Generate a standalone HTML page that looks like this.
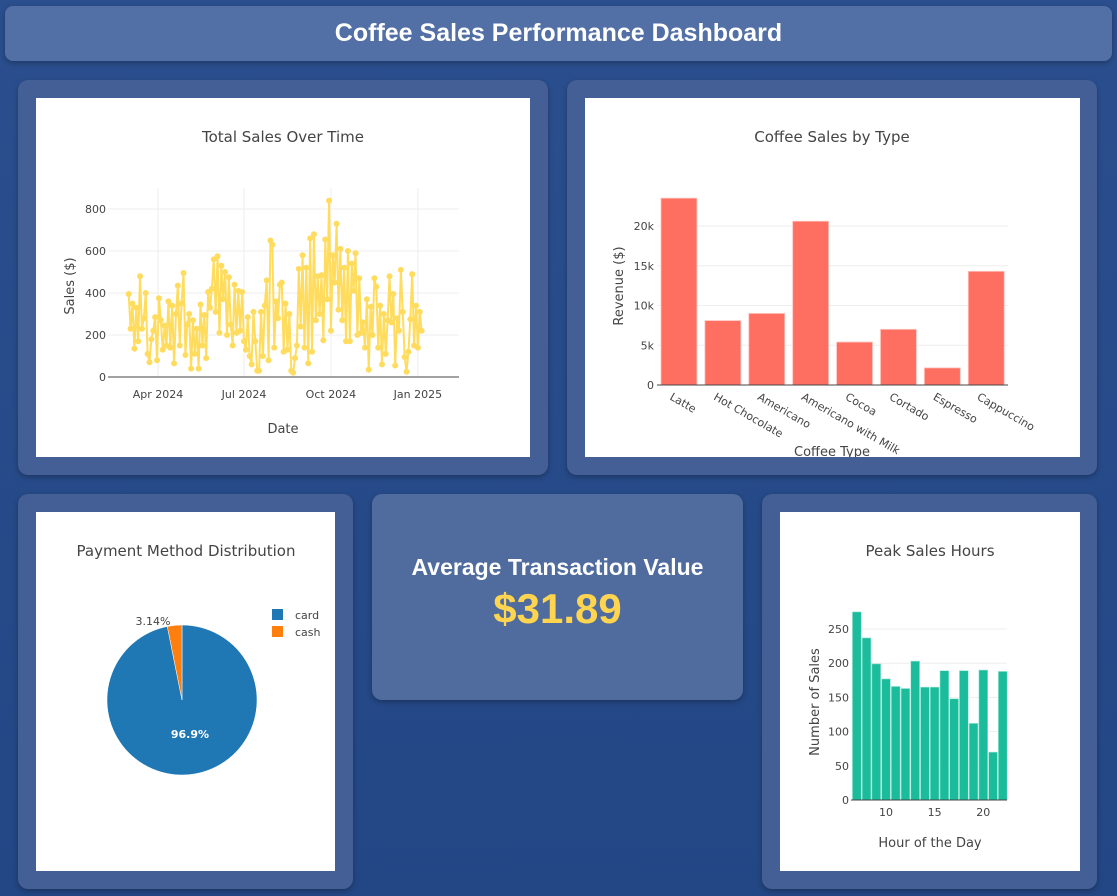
<!DOCTYPE html>
<html><head><meta charset="utf-8"><style>
body{margin:0;width:1117px;height:896px;background:linear-gradient(180deg,#2b4f8e,#234785);font-family:"Liberation Sans",sans-serif;position:relative;overflow:hidden}
.abs{position:absolute}
.panel{background:#435f96;border-radius:10px;box-shadow:0 2px 6px rgba(0,0,0,.3)}
.white{background:#fff}
svg text{font-family:"DejaVu Sans","Liberation Sans",sans-serif}
</style></head><body>
<div class="abs" style="left:5px;top:6px;width:1107px;height:55px;background:#5270a5;border-radius:8px;box-shadow:0 2px 6px rgba(0,0,0,.3);color:#fff;font-weight:bold;font-size:25px;text-align:center;line-height:55px">Coffee Sales Performance Dashboard</div>

<div class="abs panel" style="left:18px;top:80px;width:530px;height:395px"></div>
<div class="abs white" style="left:36px;top:98px;width:494px;height:359px"><svg id="ts" width="494" height="359"></svg></div>

<div class="abs panel" style="left:567px;top:80px;width:530px;height:395px"></div>
<div class="abs white" style="left:585px;top:98px;width:495px;height:359px"><svg id="bar" width="495" height="359"></svg></div>

<div class="abs panel" style="left:18px;top:494px;width:335px;height:395px"></div>
<div class="abs white" style="left:36px;top:512px;width:299px;height:359px"><svg id="pie" width="299" height="359"></svg></div>

<div class="abs" style="left:372px;top:494px;width:371px;height:206px;background:#506c9f;border-radius:10px;box-shadow:0 2px 6px rgba(0,0,0,.3);text-align:center;color:#fff">
<div style="margin-top:60px;font-size:23px;font-weight:bold">Average Transaction Value</div>
<div style="font-size:42px;font-weight:bold;color:#ffd54f;margin-top:4px">$31.89</div>
</div>

<div class="abs panel" style="left:762px;top:494px;width:335px;height:395px"></div>
<div class="abs white" style="left:780px;top:512px;width:300px;height:359px"><svg id="hist" width="300" height="359"></svg></div>

<script>
const NS='http://www.w3.org/2000/svg';
function mk(p,t,a,txt){const e=document.createElementNS(NS,t);for(const k in a)e.setAttribute(k,a[k]);if(txt!==undefined)e.textContent=txt;p.appendChild(e);return e;}

// ---- Time series data ----
const tsStart='2024-03-01';
const tsStepDays=2;
const tsValues=[395,230,350,135,330,170,480,230,280,400,110,70,180,220,285,80,375,270,130,245,150,360,140,340,65,300,435,150,350,495,105,250,300,40,270,110,230,40,345,150,295,90,405,330,420,560,310,575,210,530,370,500,200,475,250,150,440,210,410,220,405,170,130,285,100,60,310,170,30,30,310,100,340,460,80,650,630,140,360,280,440,450,120,350,130,300,30,20,90,150,515,240,580,140,520,65,660,120,680,270,480,300,485,175,655,370,840,220,580,450,730,320,610,270,520,170,600,170,540,410,590,200,470,210,260,140,370,35,335,200,470,430,140,340,60,300,110,270,480,260,395,55,280,220,510,310,95,25,120,275,490,150,340,140,310,220];
const tsTicks=[['Apr 2024','2024-04-01'],['Jul 2024','2024-07-01'],['Oct 2024','2024-10-01'],['Jan 2025','2025-01-01']];
const tsYTicks=[0,200,400,600,800];
(function(){
 const s=document.getElementById('ts');
 const day=86400000, t0=Date.parse('2024-04-01');
 const X=d=>122+(d-t0)/day*0.945, Y=v=>279-v*0.21;
 const st=Date.parse(tsStart);
 let t=mk(s,'text',{x:247,y:44,'text-anchor':'middle','font-size':15,fill:'#444'},'Total Sales Over Time');
 
 tsYTicks.forEach(v=>{mk(s,'line',{x1:72,x2:423,y1:Y(v),y2:Y(v),stroke:'#eee'});
  const l=mk(s,'text',{x:70,y:Y(v)+4,'text-anchor':'end','font-size':11,fill:'#444'},v);});
 tsTicks.forEach(([lab,d])=>{const x=X(Date.parse(d));mk(s,'line',{x1:x,x2:x,y1:90,y2:279,stroke:'#eee'});
  const l=mk(s,'text',{x:x,y:300,'text-anchor':'middle','font-size':11,fill:'#444'},lab);});
 mk(s,'line',{x1:72,x2:423,y1:279,y2:279,stroke:'#444'});
 const pts=tsValues.map((v,i)=>[X(st+i*tsStepDays*day),Y(v)]);
 const pl=mk(s,'polyline',{points:pts.map(p=>p.join(',')).join(' '),fill:'none',stroke:'#ffdc5e','stroke-width':2});
 
 pts.forEach(p=>{const c=mk(s,'circle',{cx:p[0],cy:p[1],r:3,fill:'#ffdc5e'});});
 let a=mk(s,'text',{x:247,y:335,'text-anchor':'middle','font-size':13,fill:'#444'},'Date');
 a=mk(s,'text',{x:38,y:188,'text-anchor':'middle','font-size':13,fill:'#444',transform:'rotate(-90 38 188)'},'Sales ($)');
})();

// ---- Bar chart data ----
const barCats=['Latte','Hot Chocolate','Americano','Americano with Milk','Cocoa','Cortado','Espresso','Cappuccino'];
const barVals=[23.5,8.1,9.0,20.6,5.4,7.0,2.15,14.3];
const barYTicks=[[0,'0'],[5,'5k'],[10,'10k'],[15,'15k'],[20,'20k']];
(function(){
 const s=document.getElementById('bar');
 const x0=72,bw=43.9,Y=v=>287-v*7.95;
 let t=mk(s,'text',{x:247,y:44,'text-anchor':'middle','font-size':15,fill:'#444'},'Coffee Sales by Type');
 barYTicks.forEach(([v,l])=>{mk(s,'line',{x1:x0,x2:423,y1:Y(v),y2:Y(v),stroke:'#eee'});
  const e=mk(s,'text',{x:x0-3,y:Y(v)+4,'text-anchor':'end','font-size':11,fill:'#444'},l);});
 barVals.forEach((v,i)=>{const r=mk(s,'rect',{x:x0+i*bw+4,y:Y(v),width:bw-8,height:v*7.95,fill:'#ff6f61',stroke:'#ffc2bc','stroke-width':0.8});
  
  const cx=x0+i*bw+bw/2-10;const l=mk(s,'text',{x:cx,y:301,'font-size':11,fill:'#444',transform:`rotate(30 ${cx} 301)`},barCats[i]);});
 mk(s,'line',{x1:x0,x2:423,y1:287,y2:287,stroke:'#444'});
 let a=mk(s,'text',{x:247,y:358,'text-anchor':'middle','font-size':13,fill:'#444'},'Coffee Type');
 a=mk(s,'text',{x:38,y:188,'text-anchor':'middle','font-size':13,fill:'#444',transform:'rotate(-90 38 188)'},'Revenue ($)');
})();

// ---- Pie data ----
const pieLabels=['card','cash'];
const pieVals=[96.86,3.14];
const pieColors=['#1f77b4','#ff7f0e'];
(function(){
 const s=document.getElementById('pie');
 const cx=146,cy=188,r=75;
 let t=mk(s,'text',{x:150,y:44,'text-anchor':'middle','font-size':15,fill:'#444'},'Payment Method Distribution');
 const tot=pieVals.reduce((a,b)=>a+b,0);let ang=0;
 pieVals.forEach((v,i)=>{const a0=ang,a1=ang+v/tot*2*Math.PI;ang=a1;
  const p=(a)=>[cx+r*Math.sin(a),cy-r*Math.cos(a)];const [x0,y0]=p(a0),[x1,y1]=p(a1);
  const sl=mk(s,'path',{d:`M${cx},${cy}L${x0},${y0}A${r},${r} 0 ${a1-a0>Math.PI?1:0} 1 ${x1},${y1}Z`,fill:pieColors[i],stroke:'#fff','stroke-width':0.5});
  
  const pct=(v/tot*100).toFixed(v/tot>0.1?1:2)+'%';const mid=(a0+a1)/2;
  let lab;if(v/tot>0.1){lab=mk(s,'text',{x:cx+r*0.4*Math.sin(mid)+5,y:cy-r*0.4*Math.cos(mid)+8,'text-anchor':'middle','font-size':11,'font-weight':'bold',fill:'#fff'},pct);}
  else{lab=mk(s,'text',{x:cx-29,y:cy-r+0,'text-anchor':'middle','font-size':11,fill:'#444'},pct);}
  
  const lg=mk(s,'rect',{x:236,y:97+i*17,width:11,height:11,fill:pieColors[i]});
  const lt=mk(s,'text',{x:259,y:107+i*17,'font-size':11,fill:'#444'},pieLabels[i]);});
})();

// ---- Histogram data ----
const hourCats=[7,8,9,10,11,12,13,14,15,16,17,18,19,20,21,22];
const hourVals=[275,237,199,177,166,163,203,165,165,189,148,189,112,190,70,188];
const hourXTicks=[10,15,20];
const hourYTicks=[0,50,100,150,200,250];
(function(){
 const s=document.getElementById('hist');
 const X=h=>106+(h-10)*9.73,Y=v=>288-v*0.684;
 let t=mk(s,'text',{x:150,y:44,'text-anchor':'middle','font-size':15,fill:'#444'},'Peak Sales Hours');
 hourYTicks.forEach(v=>{mk(s,'line',{x1:71,x2:227,y1:Y(v),y2:Y(v),stroke:'#eee'});
  const e=mk(s,'text',{x:69,y:Y(v)+4,'text-anchor':'end','font-size':11,fill:'#444'},v);});
 hourVals.forEach((v,i)=>{const r=mk(s,'rect',{x:X(hourCats[i])-4.4,y:Y(v),width:8.8,height:v*0.684,fill:'#1abc9c',stroke:'#9fe6d6','stroke-width':0.6});
  });
 hourXTicks.forEach(h=>{const e=mk(s,'text',{x:X(h),y:304,'text-anchor':'middle','font-size':11,fill:'#444'},h);});
 mk(s,'line',{x1:71,x2:227,y1:288,y2:288,stroke:'#444'});
 let a=mk(s,'text',{x:150,y:335,'text-anchor':'middle','font-size':13,fill:'#444'},'Hour of the Day');
 a=mk(s,'text',{x:39,y:190,'text-anchor':'middle','font-size':13,fill:'#444',transform:'rotate(-90 39 190)'},'Number of Sales');
})();
</script>
</body></html>
